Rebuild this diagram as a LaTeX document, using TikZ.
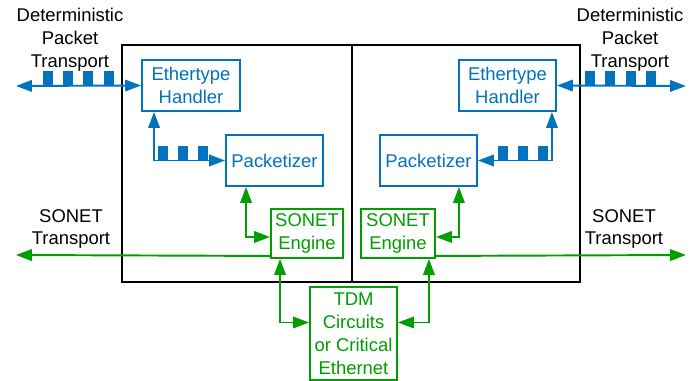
\documentclass[tikz,border=0pt]{standalone}
\usepackage{fontspec}
\setmainfont{Liberation Sans}
\usepackage{tikz}
\usetikzlibrary{arrows.meta, positioning, calc}
\definecolor{myblue}{RGB}{0,114,190}
\definecolor{mygreen}{RGB}{0,158,0}
\tikzset{
  blueblock/.style={rectangle, draw=myblue, fill=white, text=myblue,
    align=center, line width=1.1pt, inner sep=0pt,
    font=\fontsize{10.5}{13}\selectfont},
  greenblock/.style={rectangle, draw=mygreen, fill=white, text=mygreen,
    align=center, line width=1.1pt, inner sep=0pt,
    font=\fontsize{10.5}{13}\selectfont},
  system/.style={rectangle, draw=black, line width=0.9pt, inner sep=0pt},
  label/.style={align=center, font=\fontsize{10.5}{13}\selectfont},
  tip/.style={Triangle[length=9pt, width=6.5pt]},
  barrow/.style={{Triangle[length=9pt, width=6.5pt]}-{Triangle[length=9pt, width=6.5pt]}, line width=1.1pt, color=myblue},
  garrow/.style={{Triangle[length=9pt, width=6.5pt]}-{Triangle[length=9pt, width=6.5pt]}, line width=1.1pt, color=mygreen},
  gline/.style={line width=1.1pt, color=mygreen}
}

\begin{document}
\begin{tikzpicture}[x=0.02cm, y=-0.02cm]
  \useasboundingbox (0,0) rectangle (698,381);

  % Two systems
  \node[system, minimum width=4.6cm, minimum height=4.74cm] (sysL) at (237,163.5) {};
  \node[system, minimum width=4.56cm, minimum height=4.74cm] (sysR) at (466,163.5) {};

  % Blocks, left side
  \node[blueblock, minimum width=1.96cm, minimum height=1.02cm] (eth1) at (191,85.5) {Ethertype\\Handler};
  \node[blueblock, minimum width=1.94cm, minimum height=1.02cm] (pkt1) at (274.5,160.5) {Packetizer};
  \node[greenblock, minimum width=1.44cm, minimum height=0.98cm] (son1) at (307,233.5) {SONET\\Engine};

  % Blocks, right side
  \node[blueblock, minimum width=1.94cm, minimum height=1.02cm] (eth2) at (507.5,85.5) {Ethertype\\Handler};
  \node[blueblock, minimum width=1.94cm, minimum height=1.02cm] (pkt2) at (428.5,160.5) {Packetizer};
  \node[greenblock, minimum width=1.48cm, minimum height=0.98cm] (son2) at (398,233.5) {SONET\\Engine};

  % Shared TDM block
  \node[greenblock, minimum width=1.74cm, minimum height=1.86cm] (tdm) at (353.5,333.5) {TDM\\Circuits\\or Critical\\Ethernet};

  % Outside labels
  \node[label] (dptL) at (70,40) {Deterministic\\Packet\\Transport};
  \node[label] (dptR) at (630,40) {Deterministic\\Packet\\Transport};
  \node[label] (stL) at (71,229) {SONET\\Transport};
  \node[label] (stR) at (624,229) {SONET\\Transport};

  \coordinate (dL) at (16,86);
  \coordinate (dR) at (686,86);
  \coordinate (sL) at (16,255);
  \coordinate (sR) at (686,255);

  % Packets
  \foreach \x in {43,63,83,104} \fill[myblue] (\x,71) rectangle ++(10,15);
  \foreach \x in {585,605,626,646} \fill[myblue] (\x,71) rectangle ++(10,15);
  \foreach \x in {158,178,198} \fill[myblue] (\x,146) rectangle ++(10,15);
  \foreach \x in {498,518,538} \fill[myblue] (\x,146) rectangle ++(10,15);

  % Packet paths
  \draw[barrow] (dL) -- (eth1.west);
  \draw[barrow] (eth2.east) -- (dR);
  \draw[barrow] ($(eth1.south west)+(13,0)$) |- (pkt1.west);
  \draw[barrow] ($(eth2.south east)+(-5,0)$) |- (pkt2.east);

  % SONET paths
  \draw[garrow] ($(pkt1.south west)+(21,0)$) |- ($(son1.west)+(0,3.5)$);
  \draw[garrow] ($(pkt2.south east)+(-19,0)$) |- ($(son2.east)+(0,3.5)$);
  \draw[gline, {Triangle[length=9pt, width=6.5pt]}-] (sL) -- ($(son1.south west)+(0,-3)$);
  \draw[gline, -{Triangle[length=9pt, width=6.5pt]}] ($(son2.south east)+(0,-3)$) -- (sR);
  \draw[garrow] ($(son1.south west)+(10,0)$) |- ($(tdm.west)+(0,-11)$);
  \draw[garrow] ($(son2.south east)+(-7,0)$) |- ($(tdm.east)+(0,-11)$);
\end{tikzpicture}
\end{document}
